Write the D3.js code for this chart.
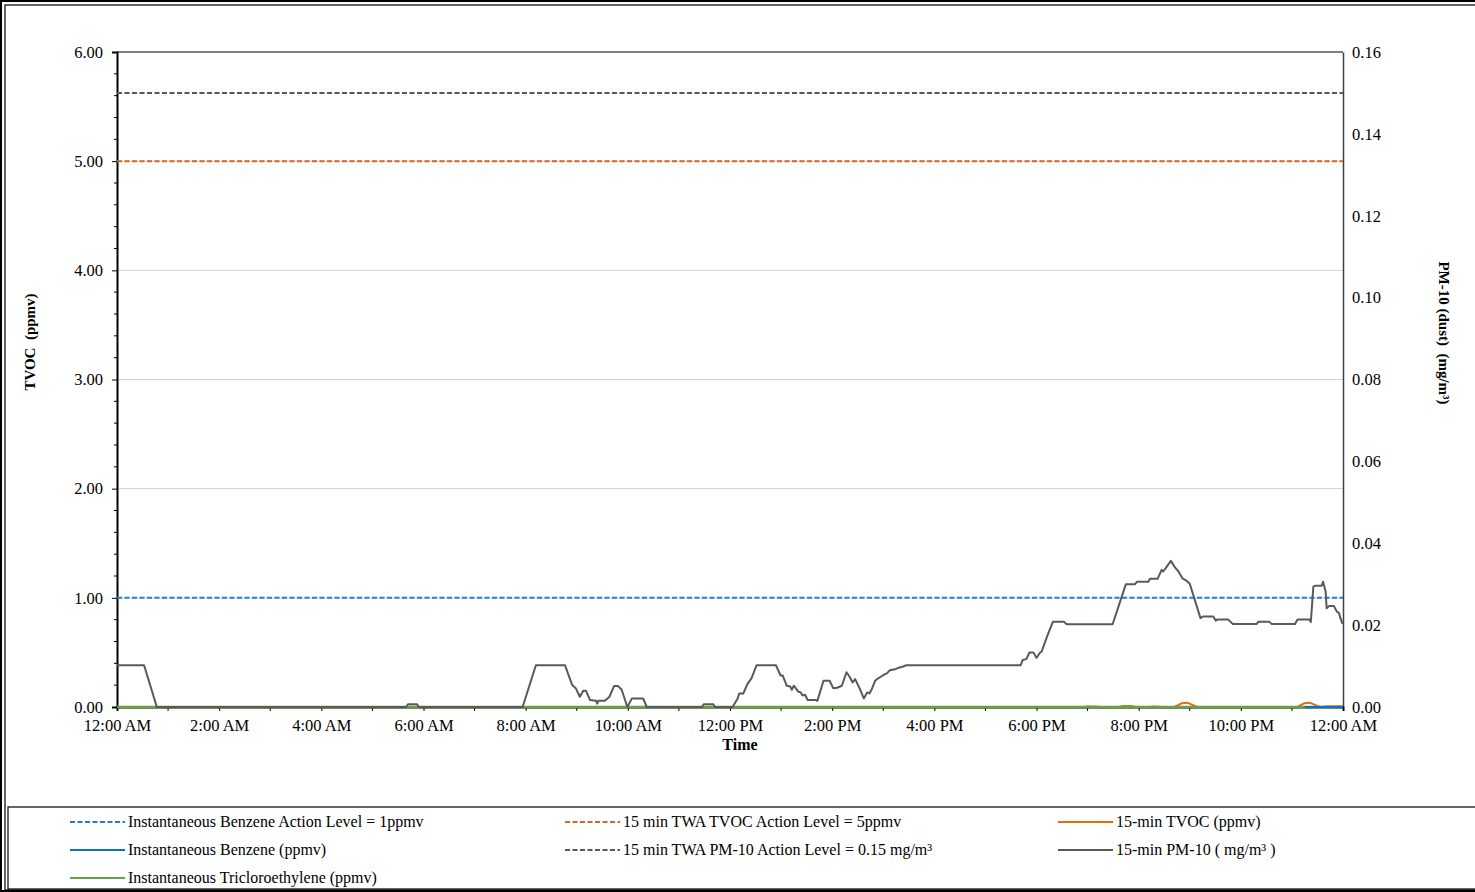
<!DOCTYPE html>
<html>
<head>
<meta charset="utf-8">
<script src="https://cdn.jsdelivr.net/npm/d3@7"></script>
<style>
  body { margin: 0; background: #fff; }
  svg { display: block; font-family: "Liberation Serif", "Times New Roman", serif; }
  svg text { font-family: "Liberation Serif", "Times New Roman", serif; }
</style>
</head>
<body>
<div id="g"></div>
<script>
// time of day in hours, 0 = 12:00 AM, 24 = next 12:00 AM
const pmTime = [0, 0.53, 0.78, 5.66, 5.70, 5.87, 5.91, 7.94, 8.20, 8.77, 8.84, 8.91, 8.98, 9.06, 9.13, 9.18,
  9.26, 9.38, 9.40, 9.42, 9.55, 9.64, 9.73, 9.81, 9.88, 9.99, 10.08, 10.30, 10.37, 11.45, 11.49, 11.67, 11.71,
  12.05, 12.15, 12.18, 12.26, 12.34, 12.42, 12.52, 12.90, 12.99, 13.03, 13.11, 13.18, 13.21, 13.25, 13.34,
  13.38, 13.42, 13.47, 13.52, 13.68, 13.71, 13.83, 13.95, 14.02, 14.10, 14.19, 14.28, 14.35, 14.40, 14.45,
  14.55, 14.62, 14.66, 14.69, 14.73, 14.77, 14.84, 14.90, 14.99, 15.07, 15.13, 15.25, 15.30, 15.39, 15.45,
  17.69, 17.73, 17.80, 17.86, 17.94, 18.00, 18.07, 18.10, 18.20, 18.32, 18.54, 18.59, 19.49, 19.75, 19.93,
  19.97, 20.19, 20.22, 20.37, 20.45, 20.48, 20.55, 20.63, 20.71, 20.78, 20.86, 20.94, 21.00, 21.21, 21.26,
  21.46, 21.51, 21.54, 21.75, 21.84, 22.31, 22.34, 22.56, 22.60, 23.06, 23.11, 23.34, 23.37, 23.42, 23.45,
  23.58, 23.61, 23.66, 23.68, 23.73, 23.82, 23.88, 23.92, 23.95, 23.99];
const pmValue = [0.0102, 0.0102, 0, 0, 0.0007, 0.0007, 0, 0, 0.0102, 0.0102, 0.0078, 0.0054, 0.0046, 0.0025, 0.0040, 0.0040,
  0.0017, 0.0015, 0.0008, 0.0015, 0.0015, 0.0025, 0.0051, 0.0051, 0.0042, 0, 0.0021, 0.0021, 0, 0, 0.0007, 0.0007, 0,
  0, 0.0021, 0.0033, 0.0033, 0.0056, 0.0070, 0.0102, 0.0102, 0.0077, 0.0077, 0.0052, 0.0050, 0.0042, 0.0052, 0.0037,
  0.0036, 0.0028, 0.0030, 0.0017, 0.0017, 0.0015, 0.0064, 0.0064, 0.0046, 0.0047, 0.0052, 0.0085, 0.0072, 0.0060, 0.0068,
  0.0042, 0.0021, 0.0030, 0.0036, 0.0033, 0.0042, 0.0064, 0.0070, 0.0077, 0.0082, 0.0090, 0.0093, 0.0096, 0.0099, 0.0102,
  0.0102, 0.0115, 0.0117, 0.0133, 0.0133, 0.0120, 0.0133, 0.0135, 0.0170, 0.0208, 0.0208, 0.0202, 0.0202, 0.0300, 0.0300,
  0.0306, 0.0306, 0.0313, 0.0313, 0.0335, 0.0331, 0.0343, 0.0357, 0.0341, 0.0331, 0.0314, 0.0308, 0.0301, 0.0217, 0.0221,
  0.0221, 0.0211, 0.0214, 0.0214, 0.0203, 0.0203, 0.0208, 0.0208, 0.0203, 0.0203, 0.0214, 0.0214, 0.0208, 0.0294, 0.0296,
  0.0296, 0.0306, 0.0282, 0.0241, 0.0247, 0.0247, 0.0233, 0.0230, 0.0217, 0.0203];

const tvocTime = [0, 18.90, 19.00, 19.15, 19.25, 19.60, 19.70, 19.85, 19.95, 20.20, 20.30, 20.45, 20.70, 20.85, 20.95,
  21.05, 21.15, 23.10, 23.25, 23.35, 23.45, 23.55, 23.70, 24];
const tvocValue = [0, 0, 0.004, 0.004, 0, 0, 0.01, 0.01, 0, 0, 0.005, 0, 0, 0.035, 0.04,
  0.02, 0, 0, 0.035, 0.04, 0.02, 0, 0.008, 0.008];

const benzeneTime = [23.25, 24];
const benzeneValue = [0, 0];
const tceTime = [0, 24];
const tceValue = [0, 0];

const benzeneLevel = 1;
const tvocLevel = 5;
const pmLevel = 0.15;

const leftTicks = [0, 1, 2, 3, 4, 5, 6];
const rightTicks = [0, 0.02, 0.04, 0.06, 0.08, 0.10, 0.12, 0.14, 0.16];

const legendItems = [
  { name: "Instantaneous Benzene Action Level = 1ppmv", color: "#1f7fd4", dash: true, col: 0, row: 0 },
  { name: "15 min TWA TVOC Action Level = 5ppmv", color: "#d2691e", dash: true, col: 1, row: 0 },
  { name: "15-min TVOC (ppmv)", color: "#e36c0a", dash: false, col: 2, row: 0 },
  { name: "Instantaneous Benzene (ppmv)", color: "#0b72c8", dash: false, col: 0, row: 1 },
  { name: "15 min TWA PM-10 Action Level = 0.15 mg/m³", color: "#595959", dash: true, col: 1, row: 1 },
  { name: "15-min PM-10 ( mg/m³ )", color: "#595959", dash: false, col: 2, row: 1 },
  { name: "Instantaneous Tricloroethylene (ppmv)", color: "#6a9f45", dash: false, col: 0, row: 2 }
];

const FONT = '"Liberation Serif", "Times New Roman", serif';

function make_graph() {
  const W = 1475, H = 892;
  const left = 117, right = 1343, top = 52, bottom = 707;

  const day0 = new Date(2020, 0, 1, 0, 0);
  const toDate = h => new Date(day0.getTime() + h * 3600000);

  const x = d3.scaleTime().domain([toDate(0), toDate(24)]).range([left, right]);
  const yL = d3.scaleLinear().domain([0, 6]).range([bottom, top]);
  const yR = d3.scaleLinear().domain([0, 0.16]).range([bottom, top]);

  const svg = d3.select('#g').append('svg')
    .attr('width', W).attr('height', H);

  // frames
  svg.append('rect').attr('x', 1).attr('y', 1).attr('width', W + 5).attr('height', H - 2)
    .attr('fill', 'none').attr('stroke', '#000').attr('stroke-width', 2);
  svg.append('rect').attr('x', 5).attr('y', 5).attr('width', W).attr('height', 885)
    .attr('fill', 'none').attr('stroke', '#000').attr('stroke-width', 1.2);
  svg.append('rect').attr('x', 8).attr('y', 807).attr('width', W).attr('height', 82)
    .attr('fill', 'none').attr('stroke', '#000').attr('stroke-width', 1.2);

  // gridlines
  svg.append('g').selectAll('line').data(leftTicks.filter(d => d > 0 && d < 6)).enter()
    .append('line')
    .attr('x1', left).attr('x2', right)
    .attr('y1', d => yL(d)).attr('y2', d => yL(d))
    .attr('stroke', '#d0d0d0').attr('stroke-width', 1);
  svg.append('line').attr('x1', left).attr('x2', right).attr('y1', top).attr('y2', top)
    .attr('stroke', '#000').attr('stroke-width', 1.2);

  // left axis
  const yAxis = d3.axisLeft(yL).tickValues(leftTicks).tickFormat(d3.format('.2f'))
    .tickSize(5).tickPadding(9);
  const gl = svg.append('g').attr('transform', `translate(${left},0)`).call(yAxis)
    .attr('font-family', FONT).attr('font-size', 16.5);
  gl.select('.domain').attr('stroke-width', 2);
  gl.selectAll('text').attr('fill', '#000');
  gl.append('g').selectAll('line').data(d3.range(0, 30).map(i => i * 0.2).filter(d => Math.abs(d - Math.round(d)) > 0.01))
    .enter().append('line')
    .attr('x1', -3).attr('x2', 0)
    .attr('y1', d => yL(d)).attr('y2', d => yL(d))
    .attr('stroke', '#000');

  // right axis
  const yAxisR = d3.axisRight(yR).tickValues(rightTicks).tickFormat(d3.format('.2f'))
    .tickSize(0).tickPadding(9);
  const gr = svg.append('g').attr('transform', `translate(${right},0)`).call(yAxisR)
    .attr('font-family', FONT).attr('font-size', 16.5);
  gr.select('.domain').attr('stroke', '#404040').attr('stroke-width', 1.5);
  gr.selectAll('text').attr('fill', '#000');

  // x axis
  const xAxis = d3.axisBottom(x)
    .tickValues(d3.range(0, 25, 2).map(toDate))
    .tickFormat(d3.timeFormat('%-I:%M %p'))
    .tickSize(4).tickPadding(8);
  const gx = svg.append('g').attr('transform', `translate(0,${bottom})`).call(xAxis)
    .attr('font-family', FONT).attr('font-size', 16.5);
  gx.select('.domain').attr('stroke-width', 2);
  gx.selectAll('text').attr('fill', '#000');
  gx.append('g').selectAll('line').data(d3.range(1, 24, 2).map(toDate)).enter()
    .append('line')
    .attr('x1', d => x(d)).attr('x2', d => x(d))
    .attr('y1', 0).attr('y2', 4)
    .attr('stroke', '#000');

  // axis titles
  svg.append('text')
    .attr('transform', 'translate(35,342) rotate(-90)')
    .attr('text-anchor', 'middle')
    .style('font-size', '15px').style('font-weight', 'bold')
    .attr('xml:space', 'preserve')
    .text('TVOC  (ppmv)');
  svg.append('text')
    .attr('transform', 'translate(1439,333) rotate(90)')
    .attr('text-anchor', 'middle')
    .style('font-size', '15px').style('font-weight', 'bold')
    .attr('xml:space', 'preserve')
    .text('PM-10 (dust)  (mg/m³)');
  svg.append('text')
    .attr('x', 740).attr('y', 750)
    .attr('text-anchor', 'middle')
    .style('font-size', '16px').style('font-weight', 'bold')
    .text('Time');

  // action levels
  const hLine = (scale, v, color) => svg.append('line')
    .attr('x1', left).attr('x2', right)
    .attr('y1', scale(v)).attr('y2', scale(v))
    .attr('stroke', color).attr('stroke-width', 2)
    .attr('stroke-dasharray', '5,2.5');
  hLine(yL, tvocLevel, '#d2691e');
  hLine(yR, pmLevel, '#595959');
  hLine(yL, benzeneLevel, '#1f7fd4');

  // series
  const series = (times, vals, scale, color, w) => {
    const pts = times.map((t, i) => [x(toDate(t)), scale(vals[i])]);
    svg.append('path').attr('d', d3.line()(pts))
      .attr('fill', 'none').attr('stroke', color).attr('stroke-width', w)
      .attr('stroke-linejoin', 'round');
  };
  series(tvocTime, tvocValue, yL, '#e36c0a', 2);
  series(tceTime, tceValue, yL, '#6a9f45', 2.5);
  series(benzeneTime, benzeneValue, yL, '#0b72c8', 2);
  series(pmTime, pmValue, yR, '#595959', 2);

  // legend
  const colX = [70, 565, 1058];
  const rowY = [822, 850, 878];
  const lg = svg.append('g').selectAll('g').data(legendItems).enter()
    .append('g')
    .attr('transform', d => `translate(${colX[d.col]},${rowY[d.row]})`);
  lg.append('line')
    .attr('x1', 0).attr('x2', 55).attr('y1', 0).attr('y2', 0)
    .attr('stroke', d => d.color).attr('stroke-width', 2)
    .attr('stroke-dasharray', d => d.dash ? '5,2.5' : null);
  lg.append('text')
    .attr('x', 58).attr('y', 5)
    .style('font-size', '16px')
    .text(d => d.name);
}

make_graph();
</script>
</body>
</html>
